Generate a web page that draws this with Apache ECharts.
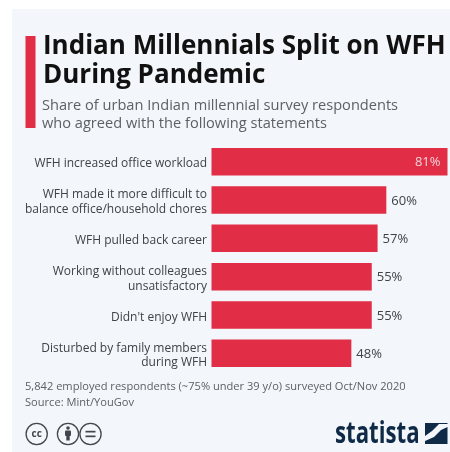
<!DOCTYPE html>
<html><head><meta charset="utf-8">
<style>html,body{margin:0;padding:0;background:#fff}#c{width:450px;height:452px}</style>
<script src="https://cdn.jsdelivr.net/npm/echarts@6/dist/echarts.min.js"></script>
</head><body><div id="c"></div>
<script>
const categories = [
  "WFH increased office workload",
  "WFH made it more difficult to\nbalance office/household chores",
  "WFH pulled back career",
  "Working without colleagues\nunsatisfactory",
  "Didn't enjoy WFH",
  "Disturbed by family members\nduring WFH"
];
const values = [81, 60, 57, 55, 55, 48];
const titleText = "Indian Millennials Split on WFH\nDuring Pandemic";
const subtitleText = "Share of urban Indian millennial survey respondents\nwho agreed with the following statements";
const noteText = "5,842 employed respondents (~75% under 39 y/o) surveyed Oct/Nov 2020\nSource: Mint/YouGov";
const F = '"Open Sans", sans-serif';
const RED = '#e12d45', INK='#3d4347', GREY='#5c6166', ICON='#41474c', NAVY='#0f2a46';
const chart = echarts.init(document.getElementById('c'), null, {renderer:'canvas'});
function ring(cx){return {type:'circle',shape:{cx:cx,cy:434,r:10.6},style:{fill:'none',stroke:ICON,lineWidth:1.3}};}
chart.setOption({
  animation:false,
  backgroundColor:'#fff',
  grid:[
    {left:211.5,top:142.6,width:236,height:229.8},
    {left:211.5,top:144.8,width:236,height:229.8}
  ],
  xAxis:[
    {type:'value',min:0,max:81,show:false,gridIndex:0},
    {type:'value',min:0,max:81,show:false,gridIndex:1}
  ],
  yAxis:[
    {type:'category',inverse:true,data:categories,gridIndex:0,show:false},
    {type:'category',inverse:true,data:categories,gridIndex:1,
      axisLine:{show:false},axisTick:{show:false},
      axisLabel:{color:INK,fontFamily:F,fontSize:12,lineHeight:14.5,align:'right',margin:4.5}}
  ],
  series:[{type:'bar',xAxisIndex:0,yAxisIndex:0,data:values.map((v,i)=>({value:v,label:i===0?{position:'insideRight',color:'#f3d5d9',distance:7}:{position:'right',color:INK,distance:5}})),
    barWidth:27.5,itemStyle:{color:RED},
    label:{show:true,formatter:'{c}%',fontFamily:F,fontSize:13,offset:[0,1]}}],
  graphic:[
    {type:'rect',z:-10,shape:{x:12,y:9,width:438,height:443},style:{fill:'#f3f6fa'}},
    {type:'rect',shape:{x:25.5,y:36,width:10,height:92},style:{fill:RED}},
    {type:'text',x:43,y:32,style:{text:titleText,fontFamily:F,fontWeight:'bold',fontSize:26,lineHeight:29,fill:'#111'}},
    {type:'text',x:42,y:96.5,style:{text:subtitleText,fontFamily:F,fontSize:14.6,lineHeight:18,fill:GREY}},
    {type:'text',x:25,y:379,style:{text:noteText,fontFamily:F,fontSize:11.1,lineHeight:16,fill:GREY}},
    ring(36.7),ring(68),ring(90.5),
    {type:'text',x:36.7,y:434,style:{text:'cc',fontFamily:F,fontWeight:'bold',fontSize:10,fill:ICON,align:'center',verticalAlign:'middle'}},
    {type:'circle',shape:{cx:68,cy:428,r:1.8},style:{fill:ICON}},
    {type:'rect',shape:{x:65,y:430.5,width:6,height:5.5,r:1},style:{fill:ICON}},
    {type:'rect',shape:{x:66.3,y:435.5,width:3.4,height:5},style:{fill:ICON}},
    {type:'rect',shape:{x:85.5,y:430.8,width:10,height:1.7},style:{fill:ICON}},
    {type:'rect',shape:{x:85.5,y:435.5,width:10,height:1.7},style:{fill:ICON}},
    {type:'text',x:335,y:419,scaleX:0.74,style:{text:'statista',fontFamily:F,fontWeight:'bold',fontSize:30,fill:NAVY}},
    {type:'polygon',shape:{points:[[425,423],[447.5,423],[447.5,424],[439,424],[432,431],[425,436]]},style:{fill:NAVY}},
    {type:'polygon',shape:{points:[[425,444],[447.5,444],[447.5,427],[441,430],[434,437],[425,441]]},style:{fill:NAVY}}
  ]
});
</script></body></html>
